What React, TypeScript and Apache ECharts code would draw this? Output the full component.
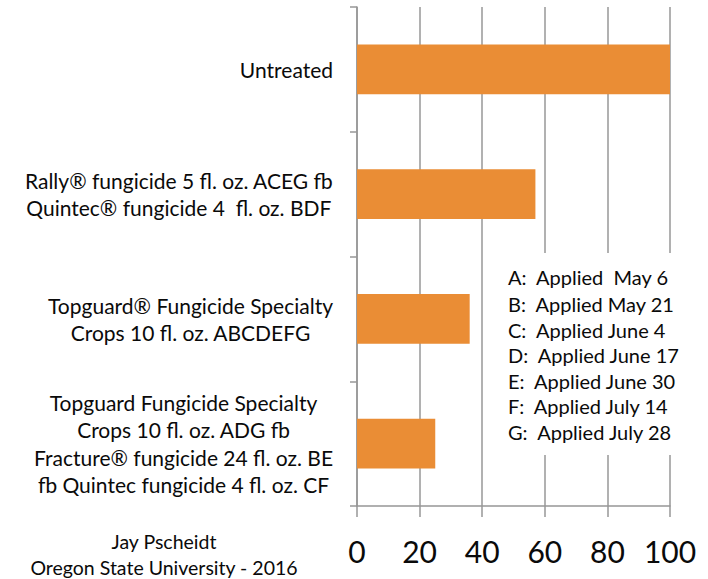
import React, { useEffect, useRef } from "react";
import * as echarts from "echarts";

const categories = [
  "Untreated",
  "Rally® fungicide 5 fl. oz. ACEG fb\nQuintec® fungicide 4  fl. oz. BDF",
  "Topguard® Fungicide Specialty\nCrops 10 fl. oz. ABCDEFG",
  "Topguard Fungicide Specialty\nCrops 10 fl. oz. ADG fb\nFracture® fungicide 24 fl. oz. BE\nfb Quintec fungicide 4 fl. oz. CF",
];
const values = [100, 57, 36, 25];
const xMin = 0;
const xMax = 100;
const xInterval = 20;
const applicationNotes = [
  "A:  Applied  May 6",
  "B:  Applied May 21",
  "C:  Applied June 4",
  "D:  Applied June 17",
  "E:  Applied June 30",
  "F:  Applied July 14",
  "G:  Applied July 28",
];
const credits = ["Jay Pscheidt", "Oregon State University - 2016"];

const FONT = "Lato, 'Open Sans', sans-serif";
const GRID_COLOR = "#979797";
const BAR_COLOR = "#EA8D35";
const TEXT_COLOR = "#0a0a0a";

export default function App() {
  const ref = useRef<HTMLDivElement>(null);
  useEffect(() => {
    if (!ref.current) return;
    const chart = echarts.init(ref.current, null, { renderer: "svg" });
    const noteY = [277, 304, 330, 355, 381, 406, 432];
    const creditY = [541, 567];
    chart.setOption({
      animation: false,
      backgroundColor: "#ffffff",
      grid: { left: 357, right: 38, top: 7, bottom: 73, containLabel: false },
      xAxis: {
        type: "value",
        min: xMin,
        max: xMax,
        interval: xInterval,
        axisLine: { show: true, lineStyle: { color: GRID_COLOR, width: 1.5 } },
        axisTick: { show: true, length: 11, lineStyle: { color: GRID_COLOR, width: 1.5 } },
        splitLine: { show: true, lineStyle: { color: GRID_COLOR, width: 1.5 } },
        axisLabel: { fontFamily: FONT, fontSize: 30, color: TEXT_COLOR, margin: 30 },
      },
      yAxis: {
        type: "category",
        inverse: true,
        data: categories,
        axisLine: { show: true, lineStyle: { color: GRID_COLOR, width: 1.5 } },
        axisTick: { show: true, length: 7, lineStyle: { color: GRID_COLOR, width: 1.5 } },
        axisLabel: {
          margin: 24,
          align: "right",
          formatter: (v: string) =>
            v
              .split("\n")
              .map((l) => `{c|${l}}`)
              .join("\n"),
          rich: {
            c: {
              align: "center",
              fontFamily: FONT,
              fontSize: 21,
              lineHeight: 27.5,
              color: TEXT_COLOR,
            },
          },
        },
      },
      series: [
        {
          type: "bar",
          data: values,
          barWidth: "40%",
          itemStyle: { color: BAR_COLOR },
          z: 3,
        },
      ],
      graphic: [
        {
          type: "rect",
          shape: { x: 500, y: 253, width: 200, height: 202 },
          style: { fill: "#ffffff" },
          z: 50,
        },
        ...applicationNotes.map((t, i) => ({
          type: "text",
          z: 60,
          style: {
            text: t,
            x: 508,
            y: noteY[i],
            fontFamily: FONT,
            fontSize: 20,
            fill: TEXT_COLOR,
            align: "left",
            verticalAlign: "middle",
          },
        })),
        ...credits.map((t, i) => ({
          type: "text",
          z: 60,
          style: {
            text: t,
            x: 164,
            y: creditY[i],
            fontFamily: FONT,
            fontSize: 19.5,
            fill: TEXT_COLOR,
            align: "center",
            verticalAlign: "middle",
          },
        })),
      ],
    });
    return () => chart.dispose();
  }, []);
  return (
    <div
      ref={ref}
      style={{ position: "fixed", left: 0, top: 0, width: 708, height: 579 }}
    />
  );
}
